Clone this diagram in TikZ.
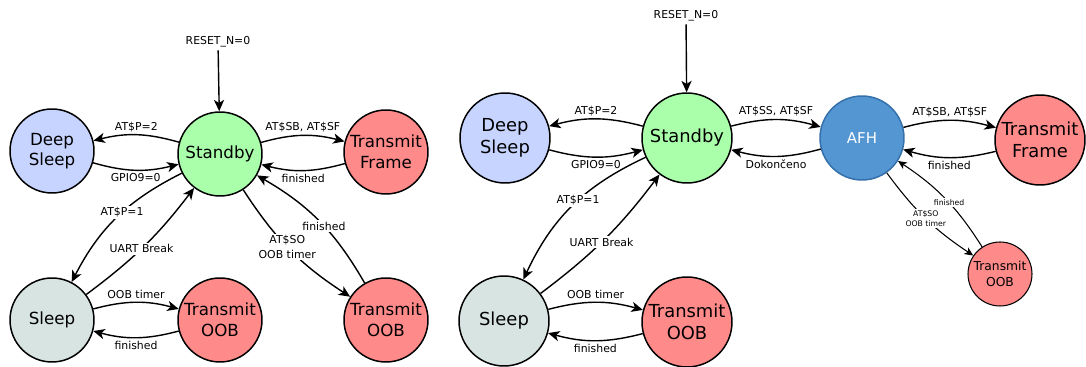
\documentclass[tikz,border=0pt]{standalone}
\usepackage{fontspec}
\setmainfont{DejaVu Sans}
\usepackage{tikz}
\usetikzlibrary{arrows.meta}
\definecolor{deepblue}{RGB}{198,212,255}
\definecolor{standbygreen}{RGB}{170,255,170}
\definecolor{txred}{RGB}{255,138,138}
\definecolor{sleepgray}{RGB}{216,228,226}
\definecolor{afhblue}{RGB}{84,150,210}
\definecolor{afhedge}{RGB}{52,112,170}

\begin{document}
\begin{tikzpicture}[x=0.02cm,y=-0.02cm]
\tikzset{state/.style = {shape=circle,draw,line width=0.85pt,inner sep=0pt,align=center,minimum size=1.68cm,font=\fontsize{9.5}{11.7}\selectfont}}
\tikzset{bigstate/.style = {state,minimum size=1.8cm,font=\fontsize{10.2}{12.3}\selectfont}}
\tikzset{edge/.style = {-{Stealth[length=6.5pt,width=5.8pt,inset=1.8pt]},line width=0.8pt}}
\tikzset{smalledge/.style = {-{Stealth[length=5pt,width=4.5pt,inset=1.4pt]},line width=0.6pt}}
\tikzset{lbl/.style = {font=\fontsize{6.2}{8.3}\selectfont,inner sep=1.5pt,align=center}}
\tikzset{onlbl/.style = {lbl,fill=white,inner sep=1pt}}
\tikzset{tinylbl/.style = {font=\fontsize{4.4}{5.7}\selectfont,inner sep=0.8pt,align=center,fill=white}}
\useasboundingbox (0,0) rectangle (1086,367);
% left diagram: vertices
\node[lbl] (rst1) at (218,42) {RESET\_N=0};
\node[state,fill=deepblue] (ds1) at (52,151) {Deep\\Sleep};
\node[state,fill=standbygreen] (sb1) at (220,154) {Standby};
\node[state,fill=txred] (tf1) at (386,152) {Transmit\\Frame};
\node[state,fill=sleepgray] (sl1) at (52,320) {Sleep};
\node[state,fill=txred] (to1) at (220,320) {Transmit\\OOB};
\node[state,fill=txred] (tx1) at (386,320) {Transmit\\OOB};
% left diagram: edges
\draw[edge] (rst1) -- (sb1);
\draw[edge] (sb1) to[bend right=15] node[lbl,above] {AT\$P=2} (ds1);
\draw[edge] (ds1) to[bend right=15] node[lbl,below] {GPIO9=0} (sb1);
\draw[edge] (sb1) to[bend left=15] node[lbl,above] {AT\$SB, AT\$SF} (tf1);
\draw[edge] (tf1) to[bend left=15] node[lbl,below] {finished} (sb1);
\draw[edge] (sb1) to[bend right=18] node[onlbl,pos=0.45] {AT\$P=1} (sl1);
\draw[edge] (sl1) to[bend right=8] node[onlbl,pos=0.47] {UART Break} (sb1);
\draw[edge] (sl1) to[bend left=15] node[lbl,above] {OOB timer} (to1);
\draw[edge] (to1) to[bend left=15] node[lbl,below] {finished} (sl1);
\draw[edge] (sb1) to[bend right=12] node[onlbl,pos=0.47] {AT\$SO\\OOB timer} (tx1);
\draw[edge] (tx1) to[bend right=15] node[onlbl,pos=0.45] {finished} (sb1);
% right diagram: vertices
\node[lbl] (rst2) at (686,16) {RESET\_N=0};
\node[bigstate,fill=deepblue] (ds2) at (505,138) {Deep\\Sleep};
\node[bigstate,fill=standbygreen] (sb2) at (687,138) {Standby};
\node[state,fill=afhblue,draw=afhedge,text=white,font=\fontsize{8.5}{10}\selectfont] (afh) at (862,138) {AFH};
\node[bigstate,fill=txred] (tf2) at (1040,140) {Transmit\\Frame};
\node[bigstate,fill=sleepgray] (sl2) at (504,321) {Sleep};
\node[bigstate,fill=txred] (to2) at (687,322) {Transmit\\OOB};
\node[state,fill=txred,line width=0.6pt,minimum size=1.28cm,font=\fontsize{7}{9.4}\selectfont] (tx2) at (1000,274) {Transmit\\OOB};
% right diagram: edges
\draw[edge] (rst2) -- (sb2);
\draw[edge] (sb2) to[bend right=15] node[lbl,above] {AT\$P=2} (ds2);
\draw[edge] (ds2) to[bend right=15] node[lbl,below] {GPIO9=0} (sb2);
\draw[edge] (sb2) to[bend left=15] node[lbl,above] {AT\$SS, AT\$SF} (afh);
\draw[edge] (afh) to[bend left=15] node[lbl,below] {Dokončeno} (sb2);
\draw[edge] (afh) to[bend left=15] node[lbl,above] {AT\$SB, AT\$SF} (tf2);
\draw[edge] (tf2) to[bend left=15] node[lbl,below] {finished} (afh);
\draw[edge] (sb2) to[bend right=20] node[onlbl,pos=0.45] {AT\$P=1} (sl2);
\draw[edge] (sl2) to[bend right=8] node[onlbl,pos=0.47] {UART Break} (sb2);
\draw[edge] (sl2) to[bend left=15] node[lbl,above] {OOB timer} (to2);
\draw[edge] (to2) to[bend left=15] node[lbl,below] {finished} (sl2);
\draw[smalledge] (afh) to[bend right=10] node[tinylbl,pos=0.5] {AT\$SO\\OOB timer} (tx2);
\draw[smalledge] (tx2) to[bend right=12] node[tinylbl,pos=0.45] {finished} (afh);
\end{tikzpicture}
\end{document}
